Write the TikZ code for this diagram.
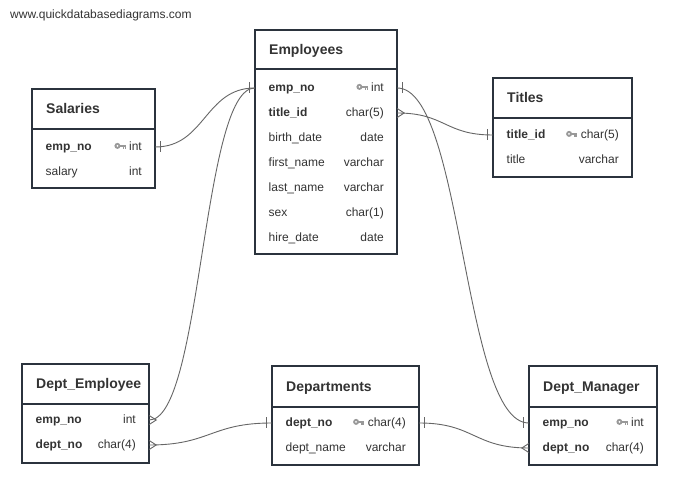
\documentclass[tikz,border=0pt]{standalone}
\usepackage{fontspec}
\setmainfont{Liberation Sans}
\usetikzlibrary{calc}
\definecolor{boxc}{HTML}{2B333D}
\definecolor{txtc}{HTML}{333333}
\definecolor{linec}{HTML}{666666}
\definecolor{keyc}{HTML}{999999}
\tikzset{
  tblbox/.style={draw=boxc, line width=2pt, fill=white, inner sep=0pt, rectangle},
  divline/.style={draw=boxc, line width=2pt},
  rowbox/.style={inner sep=0pt, minimum height=20pt, draw=none},
  hdr/.style={inner sep=0pt, text=txtc, font=\fontsize{14}{16}\selectfont\bfseries},
  fld/.style={inner sep=0pt, text=txtc, font=\fontsize{12}{14}\selectfont},
  conn/.style={draw=linec, line width=0.9pt},
  mk/.style={draw=linec, line width=0.9pt},
  keyfill/.style={fill=keyc, draw=none},
}
% table: #1 name, #2 L, #3 R, #4 T, #5 divider y, #6 B, #7 title
\newcommand\tbl[7]{%
  \node[tblbox, minimum width={#3-#2}, minimum height={#6-#4}] (#1) at ({(#2+#3)/2},{(#4+#6)/2}) {};
  \draw[divline] (#2,#5) -- (#3,#5);
  \node[hdr, anchor=base west] (#1-title) at ({#2+14},{(#4+#5)/2+5}) {#7};
}
% row: #1 name, #2 L, #3 R, #4 y, #5 field, #6 type
\newcommand\frow[6]{%
  \node[rowbox, minimum width={#3-#2}] (#1) at ({(#2+#3)/2},#4) {};
  \node[fld, anchor=base west] (#1-f) at ({#2+13.5},{#4+3.5}) {#5};
  \node[fld, anchor=base east] (#1-t) at ({#3-13},{#4+3.5}) {#6};
}
\newcommand\keyicon[1]{%
  \begin{scope}[shift={(#1-t.base west)}]
    \fill[keyfill] (-11.5,-4.6) circle (3);
    \fill[white] (-11.5,-4.6) circle (1);
    \fill[keyfill] (-9.5,-5.9) rectangle (-3.2,-3.6);
    \fill[keyfill] (-6.2,-3.6) rectangle (-5,-1.9);
    \fill[keyfill] (-4.4,-3.6) rectangle (-3.2,-1.9);
  \end{scope}
}
\newcommand\onemark[2]{\draw[mk] ($(#1)+({#2*5.5},-5.5)$) -- ($(#1)+({#2*5.5},5.5)$);}
\newcommand\manymark[2]{\draw[mk] ($(#1)+(0,-4.5)$) -- ($(#1)+({#2*7},0)$) -- ($(#1)+(0,4.5)$);}
\newcommand\link[3]{\draw[conn] (#1) .. controls ($(#1)+(#3,0)$) and ($(#2)+(-#3,0)$) .. (#2);}

\begin{document}
\begin{tikzpicture}[x=1pt,y=-1pt]
\fill[white] (0,0) rectangle (694,502);
\useasboundingbox (0,0) rectangle (694,502);

\node[fld, anchor=base west] (site) at (10,19) {www.quickdatabasediagrams.com};

% Salaries
\tbl{S}{32}{155}{89}{129}{188}{Salaries}
\frow{S-emp}{32}{155}{147}{\bfseries emp\_no}{int}
\keyicon{S-emp}
\frow{S-sal}{32}{155}{172}{salary}{int}

% Employees
\tbl{E}{255}{397}{30}{69}{254}{Employees}
\frow{E-emp}{255}{397}{88}{\bfseries emp\_no}{int}
\keyicon{E-emp}
\frow{E-tid}{255}{397}{113}{\bfseries title\_id}{char(5)}
\frow{E-bd}{255}{397}{138}{birth\_date}{date}
\frow{E-fn}{255}{397}{163}{first\_name}{varchar}
\frow{E-ln}{255}{397}{188}{last\_name}{varchar}
\frow{E-sex}{255}{397}{213}{sex}{char(1)}
\frow{E-hd}{255}{397}{238}{hire\_date}{date}

% Titles
\tbl{T}{493}{632}{78}{118}{177}{Titles}
\frow{T-tid}{493}{632}{135}{\bfseries title\_id}{char(5)}
\keyicon{T-tid}
\frow{T-ti}{493}{632}{160}{title}{varchar}

% Dept_Employee
\tbl{DE}{22}{149}{364}{404}{463}{Dept\_Employee}
\frow{DE-emp}{22}{149}{420}{\bfseries emp\_no}{int}
\frow{DE-dept}{22}{149}{445}{\bfseries dept\_no}{char(4)}

% Departments
\tbl{D}{272}{419}{366}{407}{465}{Departments}
\frow{D-dept}{272}{419}{423}{\bfseries dept\_no}{char(4)}
\keyicon{D-dept}
\frow{D-name}{272}{419}{448}{dept\_name}{varchar}

% Dept_Manager
\tbl{DM}{529}{657}{366}{407}{465}{Dept\_Manager}
\frow{DM-emp}{529}{657}{423}{\bfseries emp\_no}{int}
\keyicon{DM-emp}
\frow{DM-dept}{529}{657}{448}{\bfseries dept\_no}{char(4)}

% connectors
\link{S-emp.east}{E-emp.west}{50}
\onemark{S-emp.east}{1}
\onemark{E-emp.west}{-1}

\link{DE-emp.east}{E-emp.west}{53}
\manymark{DE-emp.east}{1}

\link{E-tid.east}{T-tid.west}{48}
\manymark{E-tid.east}{1}
\onemark{T-tid.west}{-1}

\link{E-emp.east}{DM-emp.west}{66}
\onemark{E-emp.east}{1}
\onemark{DM-emp.west}{-1}

\link{DE-dept.east}{D-dept.west}{61}
\manymark{DE-dept.east}{1}
\onemark{D-dept.west}{-1}

\link{D-dept.east}{DM-dept.west}{55}
\onemark{D-dept.east}{1}
\manymark{DM-dept.west}{-1}
\end{tikzpicture}
\end{document}
